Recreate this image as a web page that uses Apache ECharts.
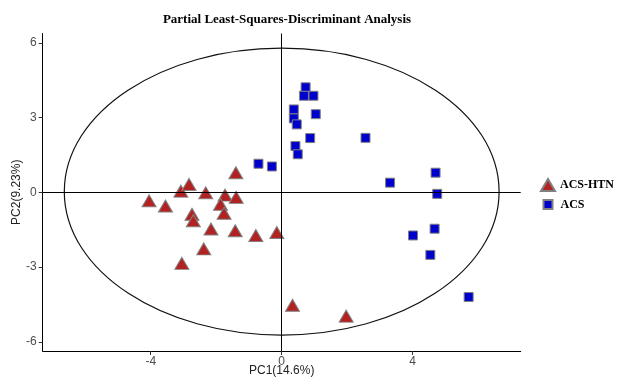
<!DOCTYPE html>
<html>
<head>
<meta charset="utf-8">
<script src="https://cdn.jsdelivr.net/npm/echarts@6/dist/echarts.min.js"></script>
<style>html,body{margin:0;padding:0;background:#fff}#c{width:619px;height:381px}</style>
</head>
<body>
<div id="c"></div>
<script>
const titleText = 'Partial Least-Squares-Discriminant Analysis';
const xName = 'PC1(14.6%)';
const yName = 'PC2(9.23%)';
const xTicks = [-4, 0, 4];
const yTicks = [-6, -3, 0, 3, 6];
const groupNames = ['ACS-HTN', 'ACS'];
const htnX = [-4.05, -3.55, -3.08, -2.83, -2.32, -1.73, -1.39, -1.40, -1.87, -1.76, -2.74, -2.70, -2.16, -1.42, -0.79, -0.15, -2.38, -3.05, 0.33, 1.97];
const htnY = [-0.34, -0.55, 0.05, 0.32, -0.02, -0.11, -0.20, 0.79, -0.48, -0.84, -0.88, -1.14, -1.47, -1.54, -1.73, -1.61, -2.27, -2.85, -4.53, -4.97];
const acsX = [0.73, 0.68, 0.97, 0.37, 0.37, 0.46, 1.04, 0.87, 0.42, 0.49, -0.71, -0.30, 2.56, 4.70, 3.31, 4.75, 4.67, 4.01, 4.54, 5.71];
const acsY = [4.22, 3.88, 3.88, 3.33, 2.97, 2.73, 3.14, 2.18, 1.86, 1.53, 1.15, 1.04, 2.19, 0.79, 0.39, -0.06, -1.46, -1.73, -2.51, -4.20];
// confidence ellipse: center x, center y, semi-axis x, semi-axis y
const ellipse = [0, 0.03, 6.64, 5.76];

const chart = echarts.init(document.getElementById('c'), null, {renderer: 'canvas'});
const zip = (a, b) => a.map((v, i) => [v, b[i]]);
const axisLabelStyle = {color: '#4d4d4d', fontFamily: 'Liberation Sans', fontSize: 12};
chart.setOption({
  animation: false,
  backgroundColor: '#fff',
  title: {
    text: titleText, left: 282, top: 8, textAlign: 'center',
    textStyle: {fontFamily: 'Liberation Serif', fontWeight: 'bold', fontSize: 13, color: '#000'}
  },
  grid: {left: 42.7, right: 98.3, top: 33.5, bottom: 30, containLabel: false, outerBoundsMode: 'none'},
  xAxis: {
    type: 'value', min: -7.3, max: 7.3,
    name: xName, nameLocation: 'middle', nameGap: 14, nameMoveOverlap: false,
    nameTextStyle: {color: '#222', fontFamily: 'Liberation Sans', fontSize: 12},
    axisLine: {onZero: false, lineStyle: {color: '#000', width: 1}},
    axisTick: {show: true, length: 4, lineStyle: {color: '#333'}, customValues: xTicks},
    axisLabel: Object.assign({margin: 5, customValues: xTicks}, axisLabelStyle),
    splitLine: {show: false}
  },
  yAxis: {
    type: 'value', min: -6.37, max: 6.38,
    name: yName, nameLocation: 'middle', nameGap: 20, nameRotate: 90, nameMoveOverlap: false,
    nameTextStyle: {color: '#222', fontFamily: 'Liberation Sans', fontSize: 12},
    axisLine: {onZero: false, lineStyle: {color: '#000', width: 1}},
    axisTick: {show: true, length: 4, lineStyle: {color: '#333'}, customValues: yTicks},
    axisLabel: Object.assign({margin: 6, customValues: yTicks}, axisLabelStyle),
    splitLine: {show: false}
  },
  legend: [
    {data: [groupNames[0]], orient: 'vertical', left: 535, top: 173, itemWidth: 14, itemHeight: 12,
     textStyle: {fontFamily: 'Liberation Serif', fontWeight: 'bold', fontSize: 12, color: '#000'}},
    {data: [groupNames[1]], orient: 'vertical', left: 537.5, top: 193.5, itemWidth: 9, itemHeight: 9,
     textStyle: {fontFamily: 'Liberation Serif', fontWeight: 'bold', fontSize: 12, color: '#000', padding: [0, 0, 0, 3]}}
  ],
  series: [
    {
      type: 'custom', silent: true, z: 1,
      data: [ellipse],
      renderItem: function (params, api) {
        const c = api.coord([api.value(0), api.value(1)]);
        const s = api.size([api.value(2), api.value(3)]);
        return {type: 'ellipse', shape: {cx: c[0], cy: c[1], rx: s[0], ry: s[1]},
          style: {fill: 'none', stroke: '#111', lineWidth: 1.2}};
      },
      encode: {x: 0, y: 1}
    },
    {
      type: 'scatter', name: '__ref', data: [], silent: true, z: 2,
      markLine: {
        silent: true, symbol: 'none', animation: false,
        label: {show: false},
        lineStyle: {color: '#000', width: 1, type: 'solid'},
        data: [{xAxis: 0}, {yAxis: 0}]
      }
    },
    {
      type: 'scatter', name: groupNames[0], z: 3,
      symbol: 'triangle', symbolSize: [14, 12],
      itemStyle: {color: '#B22222', borderColor: '#808080', borderWidth: 1, opacity: 1},
      data: zip(htnX, htnY)
    },
    {
      type: 'scatter', name: groupNames[1], z: 3,
      symbol: 'rect', symbolSize: 9,
      itemStyle: {color: '#0000CD', borderColor: '#808080', borderWidth: 1, opacity: 1},
      data: zip(acsX, acsY)
    }
  ]
});
</script>
</body>
</html>
